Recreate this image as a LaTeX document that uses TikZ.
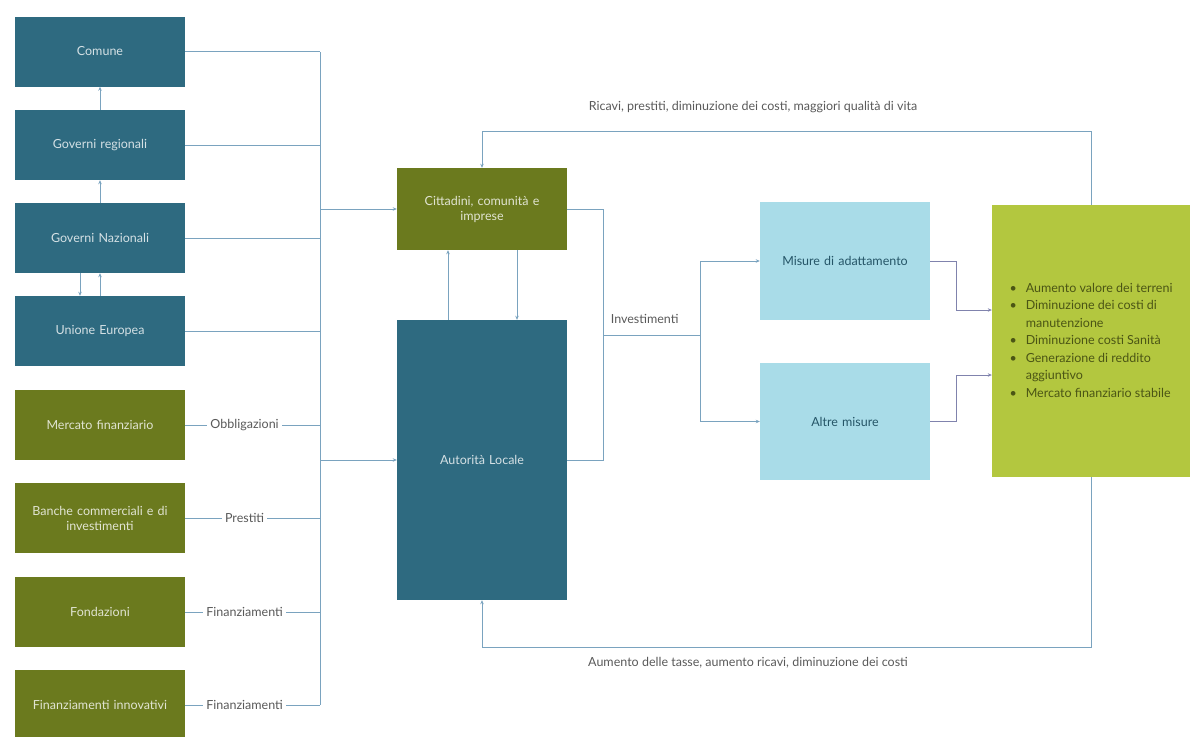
\documentclass[tikz,border=0pt]{standalone}
\usepackage{fontspec}
\setmainfont{Lato}
\usetikzlibrary{arrows.meta,positioning}
\definecolor{govteal}{HTML}{2E6A80}
\definecolor{finolive}{HTML}{6B7A1E}
\definecolor{misuresky}{HTML}{A9DCE8}
\definecolor{esitilime}{HTML}{B3C73F}
\definecolor{linkblue}{HTML}{7AA3BF}
\definecolor{navyink}{HTML}{4A4E8A}

\begin{document}
\begin{tikzpicture}[x=1pt,y=-1pt,font=\fontsize{12.5}{15}\selectfont,
    box/.style={minimum width=170pt,minimum height=70pt,inner sep=2pt,text width=160pt,align=center},
    gov/.style={box,fill=govteal,text=white!80!govteal},
    fin/.style={box,fill=finolive,text=white!80!finolive},
    misura/.style={box,minimum height=118pt,fill=misuresky,text=govteal!80!black},
    link/.style={draw=linkblue,line width=1pt},
    arrow/.style={link,-{Stealth[length=4pt,width=3.5pt]}},
    thinarrow/.style={draw=navyink!70,line width=0.6pt,-{Stealth[length=4pt,width=3.5pt]}},
    tag/.style={fill=white,inner sep=3pt,text=black!65},
    note/.style={text=black!65}]
    \useasboundingbox (0,0) rectangle (1190,736);
    \node[gov] (comune) at (100,51.5) {Comune};
    \node[gov] (regioni) at (100,145) {Governi regionali};
    \node[gov] (nazione) at (100,238) {Governi Nazionali};
    \node[gov] (ue) at (100,331) {Unione Europea};
    \node[fin] (mercato) at (100,425) {Mercato finanziario};
    \node[fin] (banche) at (100,518) {Banche commerciali e di\\investimenti};
    \node[fin] (fondazioni) at (100,612) {Fondazioni};
    \node[fin] (innovativi) at (100,705) {Finanziamenti innovativi};
    \node[fin,minimum height=82pt] (citt) at (482,209) {Cittadini, comunità e\\imprese};
    \node[gov,minimum height=280pt] (aut) at (482,460) {Autorità Locale};
    \node[misura] (misure) at (845,261) {Misure di adattamento};
    \node[misura,minimum height=117pt] (altre) at (845,421.5) {Altre misure};
    \node[minimum width=198pt,minimum height=272pt,fill=esitilime,text=finolive!70!black,
        font=\fontsize{12.5}{17.5}\selectfont] (esiti) at (1091,341)
        {\begin{tabular}{@{}l@{\hspace{9pt}}l@{}}
        \textbullet & Aumento valore dei terreni\\
        \textbullet & Diminuzione dei costi di\\
        & manutenzione\\
        \textbullet & Diminuzione costi Sanità\\
        \textbullet & Generazione di reddito\\
        & aggiuntivo\\
        \textbullet & Mercato finanziario stabile
        \end{tabular}};
    \node[note] (ricavi) at (753,107) {Ricavi, prestiti, diminuzione dei costi, maggiori qualità di vita};
    \node[note] (aumento) at (748,663) {Aumento delle tasse, aumento ricavi, diminuzione dei costi};
    \coordinate (bustop) at (320,52);
    \coordinate (busend) at (320,705);
    \coordinate (split) at (603,335);
    \coordinate (fork) at (700,335);
    \draw[arrow] (regioni) -- (comune);
    \draw[arrow] (nazione) -- (regioni);
    \draw[arrow] ([xshift=-20pt]nazione.south) -- ([xshift=-20pt]ue.north);
    \draw[arrow] (ue) -- (nazione);
    \draw[link] (bustop) -- (busend)
        (comune) -- (comune -| bustop)
        (regioni) -- (regioni -| bustop)
        (nazione) -- (nazione -| bustop)
        (ue) -- (ue -| bustop);
    \draw[link] (mercato) -- node[tag,xshift=-8pt] {Obbligazioni} (mercato -| bustop)
        (banche) -- node[tag,xshift=-8pt] {Prestiti} (banche -| bustop)
        (fondazioni) -- node[tag,xshift=-8pt] {Finanziamenti} (fondazioni -| bustop)
        (innovativi) -- node[tag,xshift=-8pt] {Finanziamenti} (innovativi -| bustop);
    \draw[arrow] (bustop |- citt) -- (citt);
    \draw[arrow] (bustop |- aut) -- (aut);
    \draw[arrow] ([xshift=-34pt]aut.north) -- ([xshift=-34pt]citt.south);
    \draw[arrow] ([xshift=35pt]citt.south) -- ([xshift=35pt]aut.north);
    \draw[link] (citt) -| (split) (aut) -| (split)
        -- node[pos=0.43,above=8pt,text=black!65] {Investimenti} (fork);
    \draw[arrow] (fork) |- (misure);
    \draw[arrow] (fork) |- (altre);
    \draw[thinarrow] (misure.east) -| ([xshift=-36pt,yshift=31pt]esiti.west) -- ([yshift=31pt]esiti.west);
    \draw[thinarrow] (altre.east) -| ([xshift=-36pt,yshift=-34pt]esiti.west) -- ([yshift=-34pt]esiti.west);
    \draw[arrow] (esiti.north) -- ++(0,-73) -| (citt.north);
    \draw[arrow] (esiti.south) -- ++(0,170) -| (aut.south);
\end{tikzpicture}
\end{document}
